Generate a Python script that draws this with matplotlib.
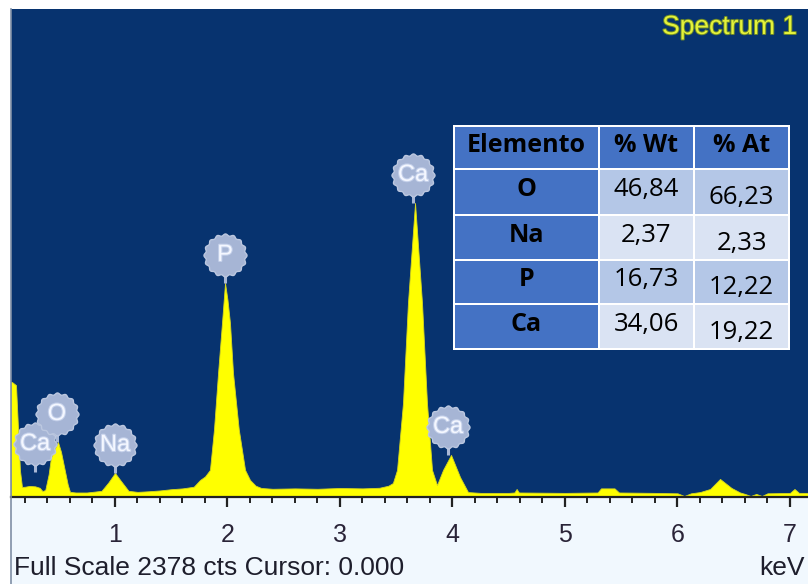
import numpy as np
import matplotlib
matplotlib.use('Agg')
import matplotlib.pyplot as plt
from matplotlib.path import Path
from matplotlib.patches import Rectangle
from matplotlib.lines import Line2D
import matplotlib.patheffects as pe

# EDS spectrum trace (energy in keV, counts)
energy_kev = [0.076, 0.085, 0.12, 0.155, 0.173, 0.20, 0.24, 0.29, 0.33, 0.355,
              0.38, 0.41, 0.43, 0.46, 0.493, 0.52, 0.55, 0.58, 0.60, 0.65, 0.75,
              0.88, 0.94, 1.00, 1.05, 1.12, 1.20, 1.30, 1.40, 1.50, 1.60, 1.70,
              1.756, 1.80, 1.844, 1.88, 1.916, 1.951, 1.978, 2.00, 2.022, 2.049,
              2.10, 2.156, 2.20, 2.25, 2.30, 2.40, 2.60, 2.80, 3.00, 3.20, 3.35,
              3.43, 3.47, 3.507, 3.56, 3.604, 3.667, 3.729, 3.773, 3.818, 3.862,
              3.916, 3.987, 4.067, 4.138, 4.25, 4.50, 4.55, 4.57, 4.59, 5.00,
              5.29, 5.32, 5.44, 5.48, 5.80, 6.00, 6.06, 6.12, 6.20, 6.29, 6.378,
              6.48, 6.556, 6.60, 6.65, 6.70, 6.75, 6.80, 7.00, 7.04, 7.08, 7.16]
counts = [560, 560, 545, 131, 49, 50, 54, 52, 45, 29,
          34, 110, 190, 230, 268, 220, 140, 60, 25, 22, 22,
          30, 70, 117, 80, 30, 25, 28, 32, 38, 42, 50,
          83, 100, 132, 330, 604, 848, 1043, 960, 848, 604,
          330, 132, 83, 55, 44, 40, 42, 40, 44, 42, 45,
          55, 68, 132, 458, 945, 1433, 945, 458, 132, 58,
          132, 205, 97, 24, 20, 20, 22, 39, 22, 20,
          22, 42, 42, 22, 20, 18, 5, 18, 24, 39, 88,
          44, 22, 15, 5, 15, 5, 18, 20, 39, 20, 20]

# element markers: name, energy, height of the line end
marker_names = ['Ca', 'O', 'Na', 'P', 'Ca', 'Ca']
marker_energy = [0.289, 0.484, 1.00, 1.978, 3.649, 3.96]
marker_top = [122, 268, 117, 1043, 1433, 205]

full_scale = 2378

# quantification table
table_header = ['Elemento', '% Wt', '% At']
elements = ['O', 'Na', 'P', 'Ca']
wt_pct = ['46,84', '2,37', '16,73', '34,06']
at_pct = ['66,23', '2,33', '12,22', '19,22']

W, H = 808, 584
fig = plt.figure(figsize=(W / 100, H / 100), dpi=100, facecolor='white')

# light panel under the spectrum
fig.patches.append(Rectangle((11 / W, 0), 1, (H - 497) / H, transform=fig.transFigure,
                             facecolor='#F1F8FE', edgecolor='none', zorder=-5))
fig.lines.append(Line2D([11 / W, 11 / W], [0, 1 - 9 / H], transform=fig.transFigure,
                        color='#7F8FA6', lw=1.2, zorder=5))

ax = fig.add_axes([11 / W, (H - 497) / H, (W - 11) / W, (497 - 9) / H])
ax.set_facecolor('#07336F')
ax.set_xlim(0.0756, 7.16)
ax.set_ylim(0, full_scale)

ax.fill_between(energy_kev, counts, 0, color='#FFFF00', edgecolor='#D6D61E', lw=0.6, zorder=2)

for s in ['top', 'right', 'left']:
    ax.spines[s].set_visible(False)
ax.spines['bottom'].set_color('#222222')
ax.spines['bottom'].set_linewidth(1.6)

ax.set_xticks(range(1, 8))
ax.set_xticks(np.arange(0.2, 7.2, 0.2), minor=True)
ax.set_yticks([])
ax.tick_params(axis='x', which='major', direction='out', length=7.5, width=1.6,
               color='#222222', pad=11, labelsize=18, labelcolor='#2A2438')
ax.tick_params(axis='x', which='minor', direction='out', length=4.5, width=1.4,
               color='#222222')
for lab in ax.get_xticklabels():
    lab.set_fontfamily('Liberation Sans')

# scalloped badge marker
theta = np.linspace(0, 2 * np.pi, 241)
rad = 1 + 0.045 * np.cos(16 * theta)
badge = Path(np.column_stack([rad * np.cos(theta), rad * np.sin(theta)]), closed=True)

px_to_counts = full_scale / 488.0
offset = 28 * px_to_counts
for name, e, top in zip(marker_names, marker_energy, marker_top):
    cy = top + offset
    ax.plot([e, e], [top, cy], color='#A9B8D6', lw=2.2, zorder=3, solid_capstyle='butt')
    ax.scatter([e], [cy], s=960, marker=badge, color='#A6B5D5', edgecolors='#BCC8E0',
               linewidths=1.0, zorder=4)
    ax.text(e, cy, name, ha='center', va='center', fontsize=17, color='#F4F7FF',
            family='Liberation Sans', zorder=5,
            path_effects=[pe.withStroke(linewidth=1.5, foreground='#C4D0EA')])

fig.text(797 / W, 1 - 27 / H, 'Spectrum 1', ha='right', va='center', fontsize=19,
         family='Liberation Sans', color='#E4F23A',
         path_effects=[pe.withStroke(linewidth=1.4, foreground='#6E8A2A')])

fig.text(14 / W, 1 - 568 / H, 'Full Scale 2378 cts Cursor: 0.000', ha='left', va='center',
         fontsize=19, family='Liberation Sans', color='#1E1E2C')
fig.text(805 / W, 1 - 568 / H, 'keV', ha='right', va='center',
         fontsize=19, family='Liberation Sans', color='#1E1E2C')

# table drawn in pixel units
tx0, tx1, ty0, ty1 = 453, 790, 125, 350
tab = fig.add_axes([tx0 / W, 1 - ty1 / H, (tx1 - tx0) / W, (ty1 - ty0) / H])
tab.set_xlim(tx0, tx1)
tab.set_ylim(ty1, ty0)
tab.set_axis_off()
tab.add_patch(Rectangle((tx0, ty0), tx1 - tx0, ty1 - ty0, facecolor='white', edgecolor='none'))

col_edges = [(455, 598), (600, 693), (695, 788)]
row_edges = [(127, 168), (170, 214), (216, 259), (261, 303), (305, 348)]
dark = '#4472C4'
mid = '#B4C7E7'
light = '#DAE3F3'

rows = [table_header] + [[el, w, a] for el, w, a in zip(elements, wt_pct, at_pct)]
for r, (y0, y1) in enumerate(row_edges):
    for c, (x0, x1) in enumerate(col_edges):
        if r == 0 or c == 0:
            fc = dark
        else:
            fc = mid if r % 2 == 1 else light
        tab.add_patch(Rectangle((x0, y0), x1 - x0, y1 - y0, facecolor=fc, edgecolor='none'))
        cx = (x0 + x1) / 2
        cy = (y0 + y1) / 2 - 2
        bold = r == 0 or c == 0
        if c == 2 and r > 0:
            cy += 8
        tab.text(cx, cy, rows[r][c], ha='center', va='center',
                 fontsize=18 if bold else 18.5, family='Open Sans',
                 weight='bold' if bold else 'normal', color='black')

plt.savefig('out.png', dpi=100, facecolor=fig.get_facecolor())
plt.close()
